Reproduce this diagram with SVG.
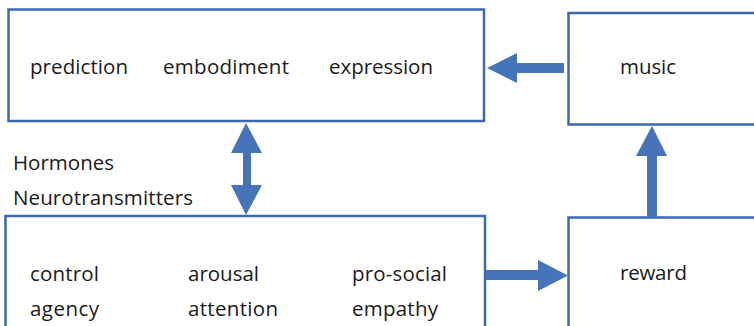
<svg xmlns="http://www.w3.org/2000/svg" width="754" height="326" viewBox="0 0 754 326">
<style>
.box{fill:#fff;stroke:#3C68B2;stroke-width:2.5}
.t{font-family:"Open Sans","Liberation Sans",sans-serif;font-size:20.5px;fill:#1a1a1a}
.arr{fill:#4673BA}
</style>
<rect width="754" height="326" fill="#fff"/>
<g id="node-top">
<rect class="box" x="8.5" y="9.5" width="475.5" height="111.5"/>
<text class="t" x="30" y="74" textLength="98">prediction</text>
<text class="t" x="163" y="74" textLength="126">embodiment</text>
<text class="t" x="329" y="74" textLength="104">expression</text>
</g>
<g id="node-music">
<rect class="box" x="568.5" y="13" width="200" height="111.5"/>
<text class="t" x="620" y="74" textLength="56">music</text>
</g>
<g id="node-bottom">
<rect class="box" x="5.5" y="216" width="479.5" height="130"/>
<text class="t" x="30" y="281" textLength="69">control</text>
<text class="t" x="188" y="281" textLength="71">arousal</text>
<text class="t" x="352" y="281" textLength="95">pro-social</text>
<text class="t" x="30" y="316" textLength="69">agency</text>
<text class="t" x="188" y="316" textLength="90">attention</text>
<text class="t" x="352" y="316" textLength="86">empathy</text>
</g>
<g id="node-reward">
<rect class="box" x="568.5" y="217.5" width="200" height="130"/>
<text class="t" x="620" y="280" textLength="67">reward</text>
</g>
<g id="label-hormones">
<text class="t" x="13" y="170" textLength="101">Hormones</text>
<text class="t" x="13" y="205" textLength="180">Neurotransmitters</text>
</g>
<g id="connectors">
<polygon class="arr" points="564,63 517,63 517,53 487,68 517,83 517,73 564,73"/>
<polygon class="arr" points="246,123 262,153 251,153 251,185 262,185 246,215 231,185 243,185 243,153 231,153"/>
<polygon class="arr" points="486,270 538,270 538,260 568,275.5 538,291 538,280 486,280"/>
<polygon class="arr" points="647,217 647,156 636,156 652,126 667,156 657,156 657,217"/>
</g>
</svg>
